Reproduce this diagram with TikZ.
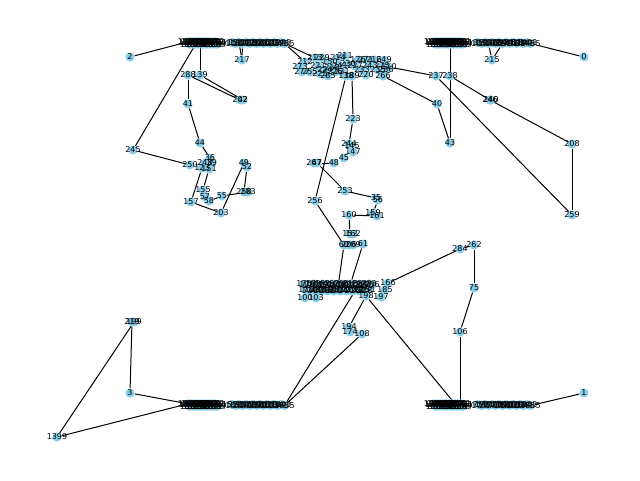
\documentclass[tikz,border=0pt]{standalone}
\usepackage{fontspec}
\setmainfont{DejaVu Sans}
\usetikzlibrary{backgrounds}
\definecolor{skyblue}{RGB}{135,206,235}

\begin{document}
\begin{tikzpicture}[-,
x=0.75pt, y=-0.75pt,
dot/.style={circle, fill=skyblue, inner sep=0pt, minimum size=6.8pt},
lbl/.style={inner sep=0pt, font=\fontsize{6}{6}\selectfont},
link/.style={draw, line width=0.75pt}]

\useasboundingbox (0,0) rectangle (640,480);

\def\singles{2/130/57, 217/242/60, 288/188/75, 139/200/75, 41/188/104, 202/240/100, 42/243/100, 44/200/143, 245/133/150, 36/210/158, 250/190/165, 248/205/163, 39/212/163, 123/202/168, 151/209/169, 155/203/190, 57/205/197, 58/209/201, 157/191/202, 203/221/213, 55/222/196, 49/244/163, 52/247/167, 258/244/192, 283/248/192, 223/353/119, 244/349/144, 145/352/146, 147/353/152, 45/344/158, 48/334/163, 267/314/163, 47/317/163, 253/345/191, 256/315/201, 35/376/198, 56/378/200, 160/349/215, 159/373/213, 161/377/216, 152/350/234, 162/353/234, 60/344/245, 206/349/245, 209/353/245, 61/363/244, 166/388/283, 185/385/290, 197/381/297, 198/366/296, 100/305/298, 103/316/298, 194/349/327, 174/350/332, 108/362/334, 0/584/57, 215/492/60, 237/436/76, 238/450/76, 40/437/104, 43/450/143, 246/490/100, 240/491/100, 208/572/144, 259/572/215, 284/460/249, 262/474/245, 75/474/288, 106/460/332, 1/584/393, 219/132/322, 199/134/322, 3/130/393, 1399/57/437}
\def\topmid{273/300/67, 277/302/72, 212/305/62, 255/310/72, 213/315/58, 221/318/66, 229/322/58, 224/325/70, 285/328/76, 150/330/62, 226/335/72, 214/338/58, 241/340/66, 211/345/56, 138/346/76, 189/352/76, 230/348/64, 227/355/66, 126/358/60, 233/362/70, 271/366/60, 243/370/66, 216/374/60, 235/378/70, 275/382/66, 236/386/70, 249/384/60, 110/389/67, 266/383/76, 220/366/75, 218/332/68, 225/320/74, 231/342/72}

% dots
\foreach \c/\bx/\by in {tl/188/43, tr/434/43, bl/188/405, br/434/405} {
  \foreach \i in {0,...,29} \node[dot] (\c\i) at ({\bx+\i},{\by+1.2*mod(\i,3)-1.2}) {};
  \foreach \j in {0,...,15} \node[dot] (\c-\j) at ({\bx+44+3.5*\j},{\by+mod(\j,2)-0.5}) {};
}
\foreach \i in {0,...,22} \node[dot] (m\i) at ({304+3.1*\i},{284+mod(\i,3)}) {};
\foreach \i in {0,...,20} \node[dot] (q\i) at ({306+3.1*\i},{290+mod(\i,2)}) {};
\foreach \n/\x/\y in \singles \node[dot] (n\n) at (\x,\y) {};
\foreach \n/\x/\y in \topmid \node[dot] (n\n) at (\x,\y) {};

% labels
\foreach \c/\k in {tl/1, tr/3, bl/5, br/7} {
  \foreach \i in {0,...,29} {
    \pgfmathtruncatemacro\lab{1000+\k*100+\i*3}
    \node[lbl] at (\c\i) {\lab};
  }
  \foreach \j in {0,...,15} {
    \pgfmathtruncatemacro\lab{1050+\k*100+\j*7}
    \node[lbl] at (\c-\j) {\lab};
  }
}
\foreach \i in {0,...,22} {
  \pgfmathtruncatemacro\lab{170+\i*3}
  \node[lbl] at (m\i) {\lab};
}
\foreach \i in {0,...,20} {
  \pgfmathtruncatemacro\lab{171+\i*3}
  \node[lbl] at (q\i) {\lab};
}
\foreach \n/\x/\y in \singles \node[lbl] at (n\n) {\n};
\foreach \n/\x/\y in \topmid \node[lbl] at (n\n) {\n};

% connectors
\begin{scope}[on background layer]
\path[link]
 (n2) edge (tl0)
 (n217) edge (tl-2)
 (n217) edge (tl-3)
 (tl12) edge (n139)
 (tl9) edge (n245)
 (n288) edge (n41)
 (n288) edge (n202)
 (n139) edge (n42)
 (n41) edge (n44)
 (n44) edge (n36)
 (n245) edge (n250)
 (n123) edge (n157)
 (n151) edge (n155)
 (n157) edge (n203)
 (n49) edge (n203)
 (n52) edge (n258)
 (n55) edge (n283)
 (n58) edge (n55)
 (tl-15) edge (n212)
 (tl-15) edge (n213)
 (n110) edge (n237)
 (n266) edge (n40)
 (n138) edge (n256)
 (n189) edge (n223)
 (n223) edge (n244)
 (n48) edge (n47)
 (n47) edge (n253)
 (n253) edge (n35)
 (n256) edge (n60)
 (n159) edge (n56)
 (n160) edge (n161)
 (n160) edge (n152)
 (n60) edge (m11)
 (n61) edge (m15)
 (q16) edge (bl-15)
 (n108) edge (bl-15)
 (n198) edge (n194)
 (n198) edge (br21)
 (n166) edge (n284)
 (n284) edge (n262)
 (n262) edge (n75)
 (n75) edge (n106)
 (n106) edge (br26)
 (n1) edge (br-15)
 (n0) edge (tr-15)
 (n215) edge (tr-3)
 (n215) edge (tr-7)
 (tr16) edge (n43)
 (n40) edge (n43)
 (n238) edge (n246)
 (n246) edge (n208)
 (n237) edge (n259)
 (n208) edge (n259)
 (n219) edge (n3)
 (n199) edge (n1399)
 (n3) edge (bl0)
 (n1399) edge (bl0);
\end{scope}

\end{tikzpicture}
\end{document}
